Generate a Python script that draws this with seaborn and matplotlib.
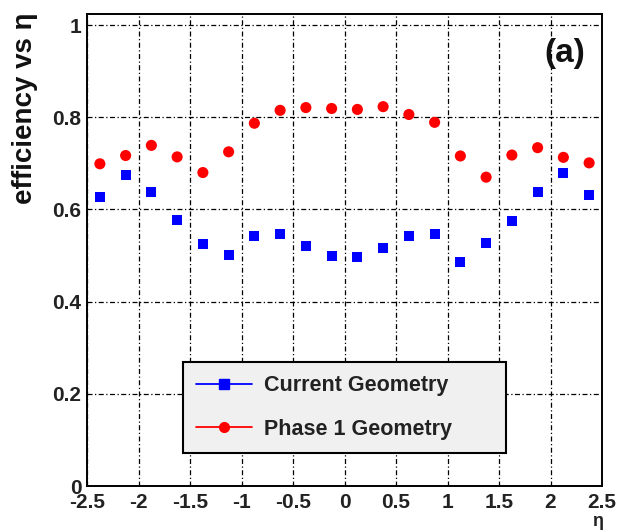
import numpy as np
import pandas as pd
import matplotlib
matplotlib.use("Agg")
import matplotlib.pyplot as plt
from matplotlib.lines import Line2D
from matplotlib.ticker import MultipleLocator, FuncFormatter
import seaborn as sns

# ---- data ----
eta = [-2.375, -2.125, -1.875, -1.625, -1.375, -1.125, -0.875, -0.625, -0.375, -0.125,
       0.125, 0.375, 0.625, 0.875, 1.125, 1.375, 1.625, 1.875, 2.125, 2.375]
current_geometry = [0.628, 0.674, 0.637, 0.578, 0.524, 0.501, 0.542, 0.546, 0.521, 0.500,
                    0.496, 0.517, 0.542, 0.547, 0.487, 0.528, 0.575, 0.637, 0.680, 0.632]
phase1_geometry = [0.699, 0.717, 0.739, 0.714, 0.680, 0.725, 0.787, 0.815, 0.821, 0.819,
                   0.817, 0.823, 0.806, 0.789, 0.716, 0.670, 0.718, 0.734, 0.713, 0.701]
series_names = ["Current Geometry", "Phase 1 Geometry"]
series_colors = ["#0000ff", "#ff0000"]
series_markers = ["s", "o"]

df = pd.concat([
    pd.DataFrame({"eta": eta, "eff": current_geometry, "geom": series_names[0]}),
    pd.DataFrame({"eta": eta, "eff": phase1_geometry, "geom": series_names[1]}),
])

sns.set_style("white")
plt.rcParams["font.family"] = ["Liberation Sans", "DejaVu Sans"]
plt.rcParams["font.weight"] = "bold"

fig = plt.figure(figsize=(6.17, 5.30), dpi=100)
ax = fig.add_axes([87 / 617, 44 / 530, 515 / 617, 472 / 530])

palette = dict(zip(series_names, series_colors))
markers = dict(zip(series_names, series_markers))
sizes = {series_names[0]: 7.2 ** 2, series_names[1]: 8.0 ** 2}
for name in series_names:
    sub = df[df["geom"] == name]
    sns.scatterplot(data=sub, x="eta", y="eff", color=palette[name], marker=markers[name],
                    s=sizes[name], edgecolor="none", linewidth=0, ax=ax, legend=False, zorder=3)

ax.set_xlim(-2.5, 2.5)
ax.set_ylim(0, 1.024)

ax.xaxis.set_major_locator(MultipleLocator(0.5))
ax.xaxis.set_minor_locator(MultipleLocator(0.1))
ax.yaxis.set_major_locator(MultipleLocator(0.2))
ax.yaxis.set_minor_locator(MultipleLocator(0.05))
fmt = FuncFormatter(lambda v, p: f"{v:g}" if abs(v) > 1e-9 else "0")
ax.xaxis.set_major_formatter(fmt)
ax.yaxis.set_major_formatter(fmt)

ax.tick_params(axis="both", which="both", direction="in", top=False, right=False,
               colors="black", labelcolor="#222222")
ax.tick_params(axis="both", which="major", length=11, width=1.2, labelsize=15)
ax.tick_params(axis="both", which="minor", length=5.5, width=1.0)
ax.tick_params(axis="y", which="major", pad=4)
ax.tick_params(axis="x", which="major", pad=5)
for lbl in ax.get_xticklabels() + ax.get_yticklabels():
    lbl.set_fontweight("bold")

for sp in ax.spines.values():
    sp.set_visible(True)
    sp.set_color("black")
    sp.set_linewidth(1.4)

ax.grid(True, which="major", color="black", linestyle=(0, (4, 2, 1, 2)), linewidth=0.9, zorder=1)
ax.set_axisbelow(True)

ax.set_xlabel("")
ax.set_ylabel("")
fig.text(25 / 617, 1 - 13 / 530, "efficiency vs η", rotation=90, ha="center", va="top",
         fontsize=20, fontweight="bold", color="#111111")
fig.text(603 / 617, 1 - 513 / 530, "η", ha="right", va="top",
         fontsize=13, fontweight="bold", color="#222222")
ax.text(0.967, 0.917, "(a)", transform=ax.transAxes, ha="right", va="center",
        fontsize=24, fontweight="bold", color="#111111")

handles = [Line2D([0], [0], color=c, marker=m, markersize=7, linewidth=1.3)
           for c, m in zip(series_colors, series_markers)]
leg = ax.legend(handles, series_names, loc="upper left",
                bbox_to_anchor=(96 / 515, 34 / 472, 323 / 515, 90 / 472), mode="expand",
                prop={"weight": "bold", "size": 15.5},
                frameon=True, fancybox=False, framealpha=1, facecolor="#f0f0f0",
                edgecolor="black", borderpad=0.62, labelspacing=1.05, handlelength=2.6,
                handletextpad=0.55, borderaxespad=0)
leg.get_frame().set_linewidth(1.5)
leg.set_zorder(5)
for t in leg.get_texts():
    t.set_color("#222222")

fig.savefig("out.png", dpi=100)
